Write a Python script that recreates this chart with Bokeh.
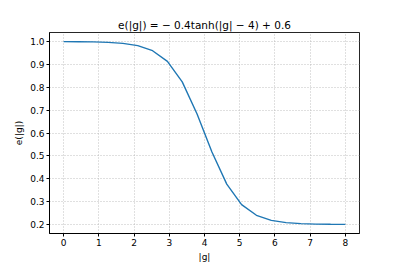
from bokeh.plotting import figure
from bokeh.embed import file_html
from bokeh.resources import INLINE
from bokeh.models import Range1d, FixedTicker

g_values = [0.0, 0.421, 0.842, 1.263, 1.684, 2.105, 2.526, 2.947, 3.368, 3.789,
            4.211, 4.632, 5.053, 5.474, 5.895, 6.316, 6.737, 7.158, 7.579, 8.0]
e_values = [0.9997, 0.9994, 0.9986, 0.9967, 0.9923, 0.9823, 0.9601, 0.9131, 0.8236, 0.6830,
            0.5170, 0.3764, 0.2869, 0.2399, 0.2177, 0.2077, 0.2033, 0.2014, 0.2006, 0.2003]
x_ticks = [0, 1, 2, 3, 4, 5, 6, 7, 8]
y_ticks = [0.2, 0.3, 0.4, 0.5, 0.6, 0.7, 0.8, 0.9, 1.0]
title_text = "e(|g|) = − 0.4tanh(|g| − 4) + 0.6"

FONT = "DejaVu Sans"

p = figure(output_backend="svg", toolbar_location=None,
           frame_width=310, frame_height=201,
           min_border_left=49, min_border_right=40, min_border_top=32, min_border_bottom=32,
           x_range=Range1d(-0.4, 8.4), y_range=Range1d(0.1603, 1.0397),
           title=title_text)

p.line(g_values, e_values, line_color="#1f77b4", line_width=1.4)

p.title.align = "center"
p.title.text_font = FONT
p.title.text_font_size = "10.5px"
p.title.text_font_style = "normal"
p.title.text_color = "black"
p.title.offset = 0
p.title.standoff = 4

p.outline_line_color = "black"
p.outline_line_width = 1
p.outline_line_alpha = 0.85

for ax, ticks in ((p.xaxis[0], x_ticks), (p.yaxis[0], y_ticks)):
    ax.ticker = FixedTicker(ticks=ticks)
    ax.minor_tick_line_color = None
    ax.major_tick_in = 0
    ax.major_tick_out = 3
    ax.major_tick_line_color = "black"
    ax.axis_line_color = "black"
    ax.major_label_text_font = FONT
    ax.major_label_text_font_size = "9px"
    ax.major_label_text_color = "black"
    ax.major_label_standoff = 2
    ax.axis_label_text_font = FONT
    ax.axis_label_text_font_size = "9px"
    ax.axis_label_text_font_style = "normal"
    ax.axis_label_text_color = "black"
    ax.axis_label_standoff = 3

p.xaxis.axis_label = "|g|"
p.yaxis.axis_label = "e(|g|)"
p.xaxis.major_label_overrides = {t: str(t) for t in x_ticks}
p.yaxis.major_label_overrides = {t: f"{t:.1f}" for t in y_ticks}

p.xgrid.grid_line_color = "#b0b0b0"
p.ygrid.grid_line_color = "#b0b0b0"
p.xgrid.grid_line_dash = "1 2"
p.ygrid.grid_line_dash = "1 2"
p.xgrid.grid_line_width = 0.8
p.ygrid.grid_line_width = 0.8

p.background_fill_color = "white"
p.border_fill_color = "white"

open("out.html", "w").write(file_html(p, INLINE))
